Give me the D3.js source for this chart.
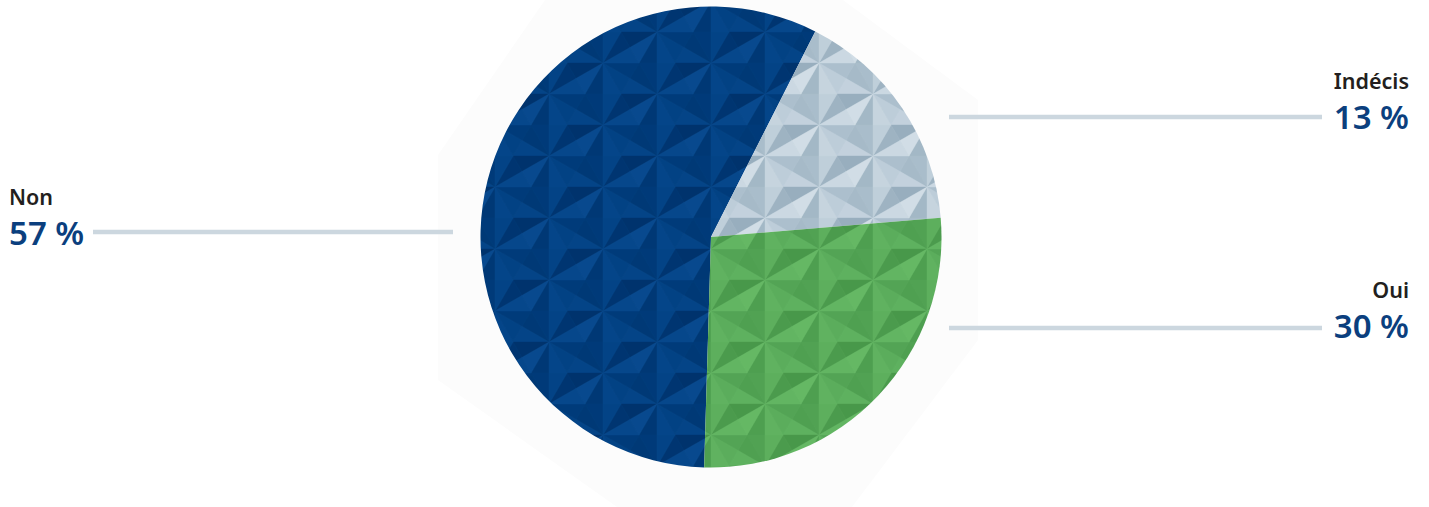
<!DOCTYPE html>
<html>
<head>
<meta charset="utf-8">
<script src="https://cdn.jsdelivr.net/npm/d3@7"></script>
<style>
  html, body { margin: 0; padding: 0; background: #ffffff; }
  svg { display: block; }
</style>
</head>
<body>
<svg id="chart" width="1429" height="507"></svg>
<script>
// ---- data ----
const categories = ["Non", "Indécis", "Oui"];
const labelPercents = [57, 13, 30];          // printed labels
const sliceShares = [57, 16.2, 26.8];         // shares as drawn in the picture
const percentLabels = labelPercents.map(v => v + " %");

// ---- styles ----
const sliceColors = {
  "Non":     { dark: "#00326c", mid: "#003f80", light: "#084a8f" },
  "Indécis": { dark: "#97adbd", mid: "#b4c6d3", light: "#d3dee7" },
  "Oui":     { dark: "#479749", mid: "#57a959", light: "#66b965" }
};
const W = 1429, H = 507;
const cx = 711, cy = 237, R = 230.5;
const startDeg = 181.7;

const svg = d3.select("#chart");
const defs = svg.append("defs");

// background faint hexagon
svg.append("polygon")
  .attr("points", [[545,0],[843,0],[978,100],[978,340],[852,507],[617,507],[438,380],[438,155]].map(p => p.join(",")).join(" "))
  .attr("fill", "#fcfcfc");

// ---- faceted triangle pattern ----
const a1 = [0, 62], a2 = [54, 31];
const tileW = 108, tileH = 62;
const light = (() => { const l = [-0.55, -0.83]; const n = Math.hypot(l[0], l[1]); return [l[0]/n, l[1]/n]; })();
function lp(i, j) { return [a2[0]*i + a1[0]*j, a2[1]*i + a1[1]*j]; }
const tris = [];
for (let i = -3; i <= 4; i++) {
  for (let j = -3; j <= 4; j++) {
    const P = lp(i, j), Pa = lp(i+1, j), Pb = lp(i, j+1), Pab = lp(i+1, j+1);
    tris.push([P, Pa, Pb]);
    tris.push([Pa, Pab, Pb]);
  }
}
const facets = [];
tris.forEach(t => {
  const C = [(t[0][0]+t[1][0]+t[2][0])/3, (t[0][1]+t[1][1]+t[2][1])/3];
  for (let k = 0; k < 3; k++) {
    const A = t[k], B = t[(k+1)%3];
    const M = [(A[0]+B[0])/2, (A[1]+B[1])/2];
    let n = [M[0]-C[0], M[1]-C[1]];
    const nl = Math.hypot(n[0], n[1]); n = [n[0]/nl, n[1]/nl];
    const d = n[0]*light[0] + n[1]*light[1];
    facets.push({ pts: [C, A, M], v: d, half: 0 });
    facets.push({ pts: [C, M, B], v: d, half: 1 });
  }
});

categories.forEach((c, idx) => {
  const col = sliceColors[c];
  const pat = defs.append("pattern")
    .attr("id", "pat" + idx)
    .attr("patternUnits", "userSpaceOnUse")
    .attr("x", 9).attr("y", 32)
    .attr("width", tileW).attr("height", tileH)
    .attr("patternTransform", `translate(${-cx},${-cy})`);
  pat.append("rect").attr("width", tileW).attr("height", tileH).attr("fill", col.mid);
  const colorScale = d3.scaleLinear().domain([-1, 0, 1]).range([col.dark, col.mid, col.light]).interpolate(d3.interpolateLab);
  const shade = f => colorScale(Math.max(-1, Math.min(1, f.v * 0.85 + (f.half ? 0.1 : -0.1))));
  pat.selectAll("polygon").data(facets).join("polygon")
    .attr("points", f => f.pts.map(p => p.join(",")).join(" "))
    .attr("fill", shade)
    .attr("stroke", shade)
    .attr("stroke-width", 0.4);
});

// ---- pie ----
const pie = d3.pie().sort(null).value(d => d.share)
  .startAngle(startDeg * Math.PI / 180)
  .endAngle((startDeg + 360) * Math.PI / 180);
const arc = d3.arc().innerRadius(0).outerRadius(R);
const data = categories.map((c, i) => ({ cat: c, share: sliceShares[i], idx: i }));
const g = svg.append("g").attr("transform", `translate(${cx},${cy})`);
g.selectAll("path").data(pie(data)).join("path")
  .attr("d", arc)
  .attr("fill", d => `url(#pat${d.data.idx})`);

// ---- labels ----
const labelLayout = {
  "Non":     { side: "left",  x: 9,    nameY: 205, pctY: 245, lineY: 232, x1: 93,  x2: 453 },
  "Indécis": { side: "right", x: 1409, nameY: 89,  pctY: 129, lineY: 117, x1: 949, x2: 1322 },
  "Oui":     { side: "right", x: 1409, nameY: 298, pctY: 338, lineY: 328, x1: 949, x2: 1322 }
};
const fontFam = "'Noto Sans', 'Open Sans', sans-serif";
categories.forEach((c, i) => {
  const L = labelLayout[c];
  svg.append("line")
    .attr("x1", L.x1).attr("x2", L.x2).attr("y1", L.lineY).attr("y2", L.lineY)
    .attr("stroke", "#ccd7df").attr("stroke-width", 4.5);
  const anchor = L.side === "left" ? "start" : "end";
  svg.append("text")
    .attr("x", L.x).attr("y", L.nameY)
    .attr("text-anchor", anchor)
    .attr("font-family", fontFam).attr("font-weight", 600).attr("font-size", 21.5)
    .attr("fill", "#231f20")
    .text(c);
  svg.append("text")
    .attr("x", L.x).attr("y", L.pctY)
    .attr("text-anchor", anchor)
    .attr("font-family", fontFam).attr("font-weight", 600).attr("font-size", 33)
    .attr("fill", "#0b3f7e")
    .text(percentLabels[i]);
});
</script>
</body>
</html>
